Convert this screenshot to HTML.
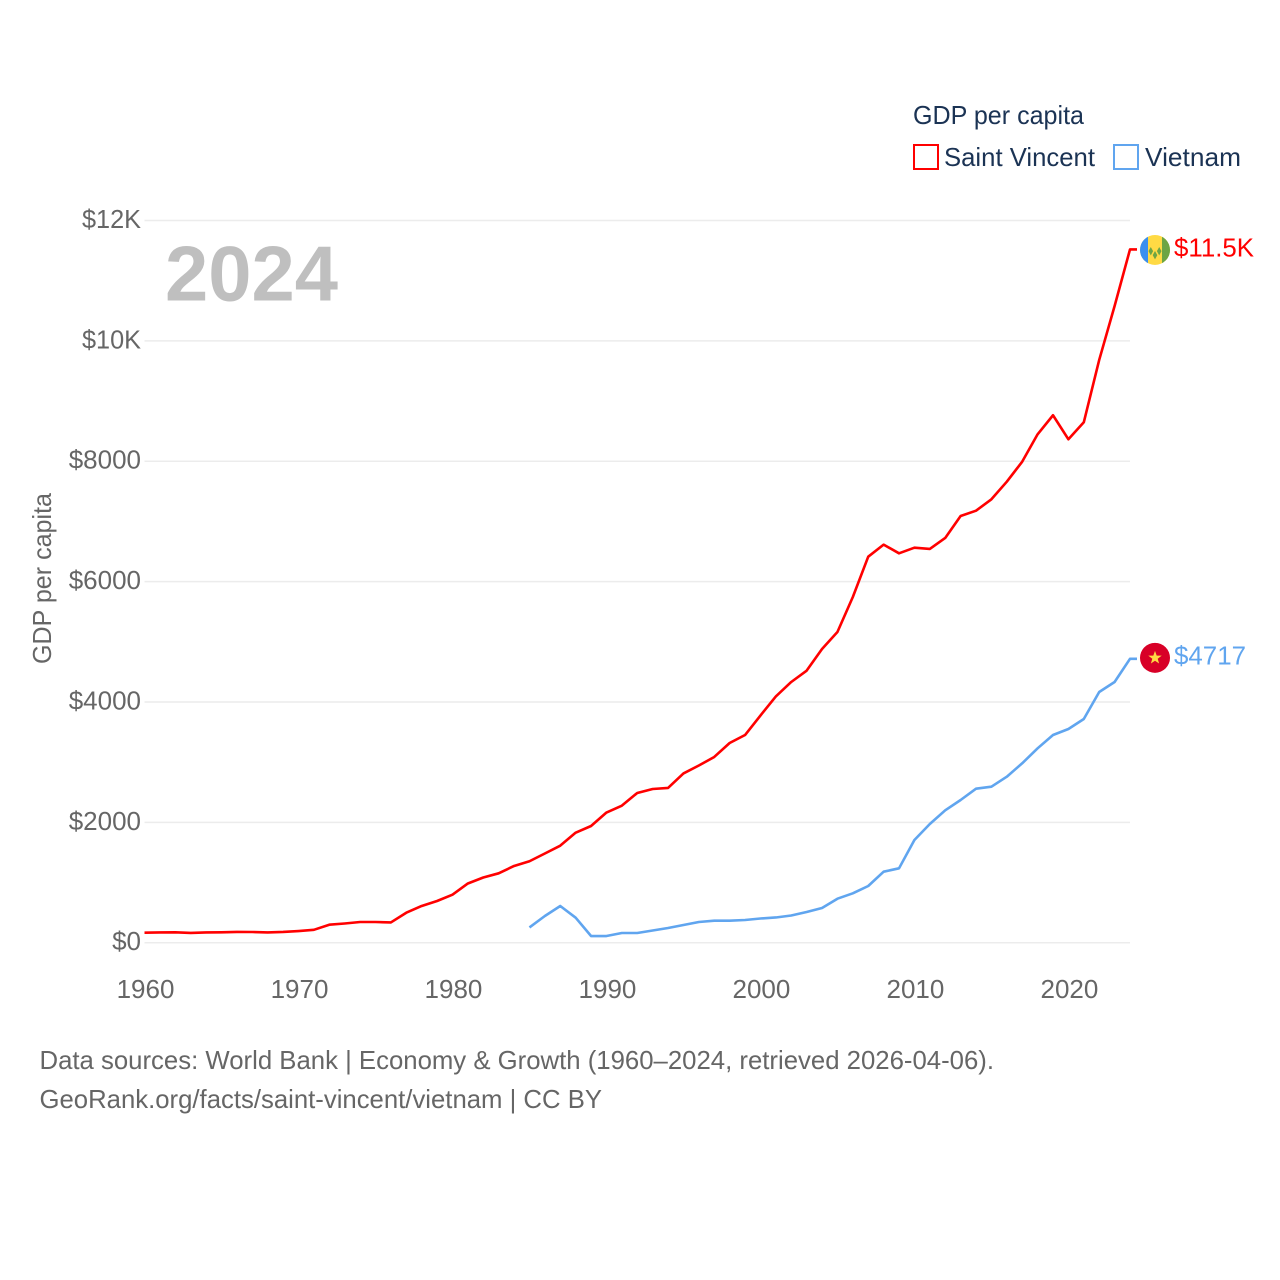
<!DOCTYPE html>
<html lang="en">
<head>
<meta charset="utf-8">
<title>GDP per capita: Saint Vincent and Vietnam</title>
<style>
  html, body { margin: 0; padding: 0; background: #fff; width: 1280px; height: 1280px; overflow: hidden; }
  svg { display: block; font-family: "Liberation Sans", sans-serif; }
  text { font-size: 26px; }
</style>
</head>
<body>
<svg id="chart" xmlns="http://www.w3.org/2000/svg" width="1280" height="1280" viewBox="0 0 1280 1280">
  <rect x="0" y="0" width="1280" height="1280" fill="#ffffff"/>
  <g id="grid"></g>
  <g id="y-ticks"></g>
  <g id="x-ticks"></g>
  <text x="165" y="300.5" fill="#bfbfbf" font-weight="700" style="font-size:78px" textLength="173" lengthAdjust="spacingAndGlyphs">2024</text>
  <text transform="translate(51,664) rotate(-90)" fill="#666666" textLength="171" lengthAdjust="spacingAndGlyphs">GDP per capita</text>
  <g id="series"></g>
  <g id="flag-vc">
    <clipPath id="vc-clip"><circle cx="0" cy="0" r="15"/></clipPath>
    <g clip-path="url(#vc-clip)">
      <rect x="-15" y="-15" width="30" height="30" fill="#ffda44"/>
      <rect x="-15" y="-15" width="8" height="30" fill="#3a8ff0"/>
      <rect x="7" y="-15" width="8" height="30" fill="#6da544"/>
    </g>
    <path d="M0 1l2.3 4.2 -2.3 4.2 -2.3 -4.2z M-4.2 -3l2.3 4.2 -2.3 4.2 -2.3 -4.2z M4.2 -3l2.3 4.2 -2.3 4.2 -2.3 -4.2z" fill="#6da544"/>
  </g>
  <g id="flag-vn">
    <circle cx="0" cy="0" r="15" fill="#d80027"/>
    <polygon points="0,-7 1.7,-2.2 6.7,-2.2 2.7,0.9 4.1,5.7 0,2.9 -4.1,5.7 -2.7,0.9 -6.7,-2.2 -1.7,-2.2" fill="#ffda44"/>
  </g>
  <g id="end-labels"></g>

  <g>
    <text x="913" y="124" fill="#1b3354" textLength="171" lengthAdjust="spacingAndGlyphs">GDP per capita</text>
    <g>
      <rect x="914" y="145" width="24" height="24" fill="none" stroke="#ff0000" stroke-width="2"/>
      <text x="944" y="166" fill="#1b3354" textLength="151" lengthAdjust="spacingAndGlyphs">Saint Vincent</text>
    </g>
    <g>
      <rect x="1114" y="145" width="24" height="24" fill="none" stroke="#60a5ef" stroke-width="2"/>
      <text x="1145" y="166" fill="#1b3354" textLength="96" lengthAdjust="spacingAndGlyphs">Vietnam</text>
    </g>
  </g>

  <text x="39.5" y="1069" fill="#666666" textLength="954.5" lengthAdjust="spacingAndGlyphs">Data sources: World Bank | Economy &amp; Growth (1960–2024, retrieved 2026-04-06).</text>
  <text x="39.5" y="1108" fill="#666666" textLength="562.5" lengthAdjust="spacingAndGlyphs">GeoRank.org/facts/saint-vincent/vietnam | CC BY</text>
</svg>

<script>
const years = [1960,1961,1962,1963,1964,1965,1966,1967,1968,1969,1970,1971,1972,1973,1974,1975,1976,1977,1978,1979,1980,1981,1982,1983,1984,1985,1986,1987,1988,1989,1990,1991,1992,1993,1994,1995,1996,1997,1998,1999,2000,2001,2002,2003,2004,2005,2006,2007,2008,2009,2010,2011,2012,2013,2014,2015,2016,2017,2018,2019,2020,2021,2022,2023,2024];
const saintVincent = [166,170,173,163,171,173,179,178,170,179,194,214,299,319,344,344,337,498,610,693,798,984,1083,1153,1275,1353,1482,1612,1828,1939,2163,2277,2488,2554,2571,2812,2944,3086,3318,3451,3775,4091,4332,4520,4880,5163,5744,6414,6614,6470,6564,6542,6725,7090,7178,7368,7660,7993,8448,8764,8365,8647,9683,10580,11519];
const vietnam = [null,null,null,null,null,null,null,null,null,null,null,null,null,null,null,null,null,null,null,null,null,null,null,null,null,253,444,610,415,111,111,161,161,203,244,294,344,366,366,377,402,419,452,510,577,731,821,942,1180,1236,1707,1972,2200,2371,2559,2592,2758,2981,3230,3451,3551,3717,4166,4332,4717];
const yTickValues = [0,2000,4000,6000,8000,10000,12000];
const yTickLabels = ["$0","$2000","$4000","$6000","$8000","$10K","$12K"];
const xTickValues = [1960,1970,1980,1990,2000,2010,2020];
const xTickLabels = ["1960","1970","1980","1990","2000","2010","2020"];
const endLabelSaintVincent = "$11.5K";
const endLabelVietnam = "$4717";

const NS = "http://www.w3.org/2000/svg";
const plotLeft = 144.5, plotRight = 1130, plotBottom = 942.7, plotTop = 220.5;
function xScale(year) {
  return plotLeft + (year - 1960) * (plotRight - plotLeft) / (2024 - 1960);
}
function yScale(value) {
  return plotBottom - value * (plotBottom - plotTop) / 12000;
}
function make(tag, parentId) {
  const el = document.createElementNS(NS, tag);
  document.getElementById(parentId).appendChild(el);
  return el;
}
function linePath(values) {
  let d = "";
  values.forEach(function (v, i) {
    if (v === null) return;
    d += (d ? "L" : "M") + xScale(years[i]).toFixed(2) + " " + yScale(v).toFixed(2);
  });
  d += "H" + (plotRight + 7);
  return d;
}

yTickValues.forEach(function (v, i) {
  const line = make("line", "grid");
  
  
  line.setAttribute("x1", plotLeft);
  line.setAttribute("x2", plotRight);
  line.setAttribute("y1", yScale(v));
  line.setAttribute("y2", yScale(v));
  line.setAttribute("stroke", "#ececec");
  line.setAttribute("stroke-width", "1.5");

  const label = make("text", "y-ticks");
  
  
  label.setAttribute("x", 141);
  label.setAttribute("y", yScale(v) + 7.5);
  label.setAttribute("text-anchor", "end");
  label.setAttribute("fill", "#666666");
  if (v >= 10000) {
    label.setAttribute("textLength", "59");
    label.setAttribute("lengthAdjust", "spacingAndGlyphs");
  }
  label.textContent = yTickLabels[i];
});

xTickValues.forEach(function (v, i) {
  const label = make("text", "x-ticks");
  
  
  label.setAttribute("x", xScale(v) + 1);
  label.setAttribute("y", 998);
  label.setAttribute("text-anchor", "middle");
  label.setAttribute("fill", "#666666");
  label.textContent = xTickLabels[i];
});

const redLine = make("path", "series");


redLine.setAttribute("d", linePath(saintVincent));
redLine.setAttribute("fill", "none");
redLine.setAttribute("stroke", "#ff0000");
redLine.setAttribute("stroke-width", "2.6");
redLine.setAttribute("stroke-linejoin", "round");

const blueLine = make("path", "series");


blueLine.setAttribute("d", linePath(vietnam));
blueLine.setAttribute("fill", "none");
blueLine.setAttribute("stroke", "#60a5ef");
blueLine.setAttribute("stroke-width", "2.6");
blueLine.setAttribute("stroke-linejoin", "round");

const lastRedY = yScale(saintVincent[saintVincent.length - 1]);
const lastBlueY = yScale(vietnam[vietnam.length - 1]);
document.getElementById("flag-vc").setAttribute("transform", "translate(1155," + (lastRedY + 0.5) + ")");
document.getElementById("flag-vn").setAttribute("transform", "translate(1155," + (lastBlueY - 1) + ")");

const redLabel = make("text", "end-labels");


redLabel.setAttribute("x", 1174);
redLabel.setAttribute("y", lastRedY + 7);
redLabel.setAttribute("fill", "#ff0000");
redLabel.setAttribute("textLength", "80");
redLabel.setAttribute("lengthAdjust", "spacingAndGlyphs");
redLabel.textContent = endLabelSaintVincent;

const blueLabel = make("text", "end-labels");


blueLabel.setAttribute("x", 1174);
blueLabel.setAttribute("y", lastBlueY + 5.5);
blueLabel.setAttribute("fill", "#60a5ef");
blueLabel.setAttribute("textLength", "72");
blueLabel.setAttribute("lengthAdjust", "spacingAndGlyphs");
blueLabel.textContent = endLabelVietnam;
</script>
</body>
</html>
